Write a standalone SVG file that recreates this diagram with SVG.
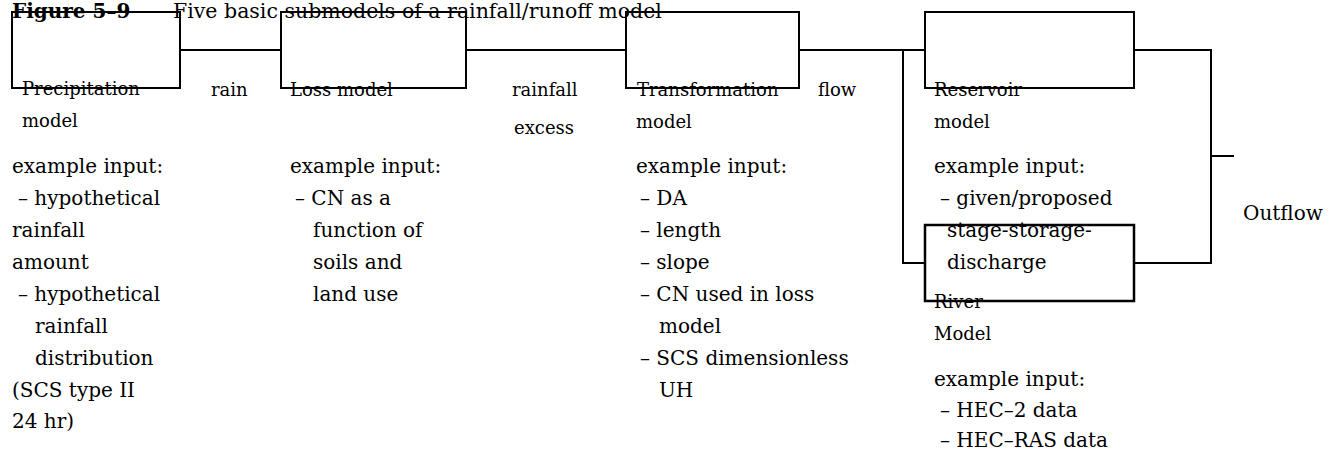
<svg xmlns="http://www.w3.org/2000/svg" width="1342" height="452" viewBox="0 0 1342 452">
<style>
text{font-family:"DejaVu Serif","Liberation Serif",serif;fill:#000}
.b{font-size:20px}
.s{font-size:18px}
.t{font-size:20.5px}
.h{font-size:20px;font-weight:bold}
.box{fill:none;stroke:#000;stroke-width:2}
.ln{fill:none;stroke:#000;stroke-width:2}
</style>
<rect width="1342" height="452" fill="#fff"/>
<g id="title">
<text class="h" x="12" y="18">Figure 5–9</text>
<text class="t" x="173" y="18">Five basic submodels of a rainfall/runoff model</text>
</g>
<g id="connectors">
<path class="ln" d="M180 50H281"/>
<path class="ln" d="M466 50H626"/>
<path class="ln" d="M799 50H925"/>
<path class="ln" d="M903 50V263H925"/>
<path class="ln" d="M1134 50H1211V263H1134"/>
<path class="ln" d="M1211 156H1234"/>
<text class="s" x="211" y="96">rain</text>
<text class="s" x="512" y="96">rainfall</text>
<text class="s" x="514" y="134">excess</text>
<text class="s" x="818" y="96">flow</text>
<text class="b" x="1243" y="220">Outflow</text>
</g>
<g id="precipitation">
<text class="s" x="22" y="95">Precipitation</text>
<text class="s" x="22" y="127">model</text>
<text class="b"><tspan x="12" y="173">example input:</tspan><tspan x="18" y="205">– hypothetical</tspan><tspan x="12" y="237">rainfall</tspan><tspan x="12" y="269">amount</tspan><tspan x="18" y="301">– hypothetical</tspan><tspan x="35" y="333">rainfall</tspan><tspan x="35" y="365">distribution</tspan><tspan x="12" y="397">(SCS type II</tspan><tspan x="12" y="428">24 hr)</tspan></text>
<rect class="box" x="12" y="12" width="168" height="76"/>
</g>
<g id="loss">
<text class="s" x="290" y="96">Loss model</text>
<text class="b"><tspan x="290" y="173">example input:</tspan><tspan x="295" y="205">– CN as a</tspan><tspan x="313" y="237">function of</tspan><tspan x="313" y="269">soils and</tspan><tspan x="313" y="301">land use</tspan></text>
<rect class="box" x="281" y="12" width="185" height="76"/>
</g>
<g id="transformation">
<text class="s" x="637" y="96">Transformation</text>
<text class="s" x="636" y="128">model</text>
<text class="b"><tspan x="636" y="173">example input:</tspan><tspan x="640" y="205">– DA</tspan><tspan x="640" y="237">– length</tspan><tspan x="640" y="269">– slope</tspan><tspan x="640" y="301">– CN used in loss</tspan><tspan x="659" y="333">model</tspan><tspan x="640" y="365">– SCS dimensionless</tspan><tspan x="659" y="397">UH</tspan></text>
<rect class="box" x="626" y="12" width="173" height="76"/>
</g>
<g id="reservoir">
<text class="s" x="934" y="96">Reservoir</text>
<text class="s" x="934" y="128">model</text>
<text class="b"><tspan x="934" y="173">example input:</tspan><tspan x="940" y="205">– given/proposed</tspan><tspan x="947" y="237">stage-storage-</tspan><tspan x="947" y="269">discharge</tspan></text>
<rect class="box" x="925" y="12" width="209" height="76"/>
</g>
<g id="river">
<text class="s" x="934" y="308">River</text>
<text class="s" x="934" y="340">Model</text>
<text class="b"><tspan x="934" y="386">example input:</tspan><tspan x="940" y="417">– HEC–2 data</tspan><tspan x="940" y="447">– HEC–RAS data</tspan></text>
<rect class="box" x="925" y="225" width="209" height="76" style="stroke-width:2.5"/>
</g>
</svg>
